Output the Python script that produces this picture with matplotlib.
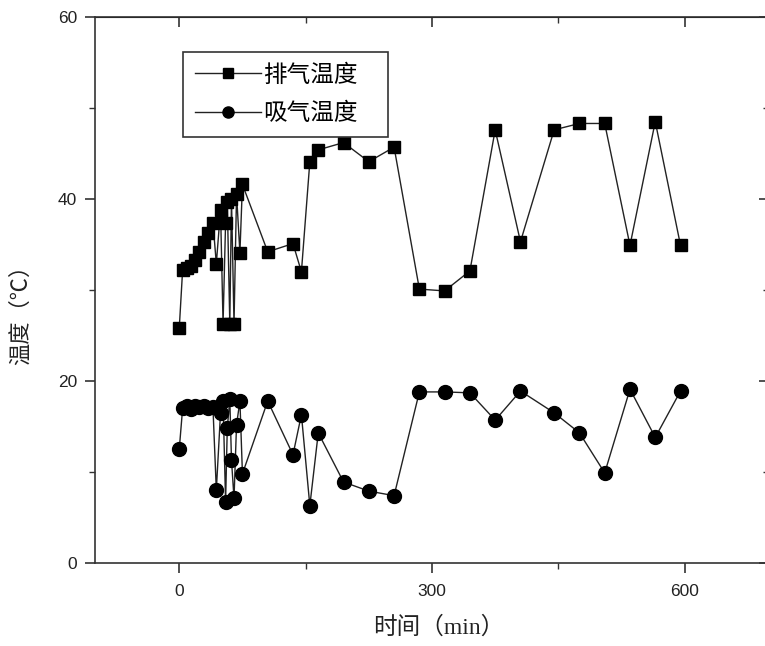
import matplotlib
matplotlib.use("Agg")
import matplotlib.pyplot as plt
from matplotlib.ticker import MultipleLocator

plt.rcParams['font.family'] = ['Liberation Sans', 'Noto Sans CJK SC', 'DejaVu Sans']

# time (min)
time = [0, 4, 9, 14, 19, 24, 29, 34, 40, 44, 49, 52, 55, 57, 60, 62, 65, 68, 72, 75,
        105, 135, 145, 155, 165, 195, 225, 255, 285, 315, 345, 375, 405, 445, 475,
        505, 535, 565, 595]
# exhaust temperature
exhaust = [25.8, 32.2, 32.4, 32.6, 33.3, 34.2, 35.3, 36.3, 37.4, 32.9, 38.8, 26.3,
           37.4, 39.7, 26.3, 40.0, 26.3, 40.5, 34.1, 41.6,
           34.2, 35.1, 32.0, 44.1, 45.4, 46.2, 44.1, 45.7, 30.1, 29.9, 32.1, 47.6,
           35.3, 47.6, 48.3, 48.3, 34.9, 48.5, 34.9]
# suction temperature
suction = [12.5, 17.0, 17.2, 16.9, 17.3, 17.1, 17.2, 17.0, 17.1, 8.0, 16.5, 17.8,
           6.7, 14.8, 18.0, 11.3, 7.1, 15.2, 17.8, 9.8,
           17.8, 11.9, 16.3, 6.3, 14.3, 8.9, 7.9, 7.4, 18.8, 18.8, 18.7, 15.7,
           18.9, 16.5, 14.3, 9.9, 19.1, 13.8, 18.9]

labels = ['排气温度', '吸气温度']
xlabel = '时间（min）'
ylabel = '温度（℃）'

fig = plt.figure(figsize=(7.65, 6.46), dpi=100)
ax = fig.add_axes([95/765, 83/646, 674/765, 546/646])

lc = '#222222'
ax.plot(time, exhaust, color=lc, lw=1.0, marker='s', ms=9, mfc='black', mec='black',
        label=labels[0])
ax.plot(time, suction, color=lc, lw=1.0, marker='o', ms=10, mfc='black', mec='black',
        label=labels[1])

ax.set_xlim(-100, 700)
ax.set_ylim(0, 60)
ax.xaxis.set_major_locator(MultipleLocator(300))
ax.xaxis.set_minor_locator(MultipleLocator(150))
ax.yaxis.set_major_locator(MultipleLocator(20))
ax.yaxis.set_minor_locator(MultipleLocator(10))

ax.tick_params(which='both', top=False, right=False, labeltop=False, labelright=False,
               colors='#333333', labelcolor='#222222', labelsize=12.5)
ax.tick_params(axis='x', which='major', direction='out', length=7, width=1.2, pad=8)
ax.tick_params(axis='x', which='minor', direction='out', length=4, width=1)
ax.tick_params(axis='y', which='major', direction='out', length=7, width=1.2, pad=6)
ax.tick_params(axis='y', which='minor', direction='out', length=4, width=1)
for sp in ax.spines.values():
    sp.set_color('#333333')
    sp.set_linewidth(1.2)

# top/right ticks pointing inward
sec_x = ax.secondary_xaxis('top')
sec_x.xaxis.set_major_locator(MultipleLocator(300))
sec_x.xaxis.set_minor_locator(MultipleLocator(150))
sec_x.tick_params(which='both', direction='in', labeltop=False, colors='#333333')
sec_x.tick_params(which='major', length=7, width=1.2)
sec_x.tick_params(which='minor', length=4, width=1)
sec_y = ax.secondary_yaxis('right')
sec_y.yaxis.set_major_locator(MultipleLocator(20))
sec_y.yaxis.set_minor_locator(MultipleLocator(10))
sec_y.tick_params(which='both', direction='in', labelright=False, colors='#333333')
sec_y.tick_params(which='major', length=7, width=1.2)
sec_y.tick_params(which='minor', length=4, width=1)

ax.set_xlabel(xlabel, fontsize=17, family=['Liberation Serif', 'Noto Sans CJK SC'],
              color='#222222')
ax.xaxis.set_label_coords(0.51, -0.098)
ax.set_ylabel(ylabel, fontsize=16, family=['Noto Sans CJK SC', 'DejaVu Sans'],
              color='#222222')
ax.yaxis.set_label_coords(-0.093, 0.465)

leg = ax.legend(loc='upper left', bbox_to_anchor=(0.1306, 0.786, 0.304, 0.15),
                mode='expand', borderaxespad=0,
                fancybox=False, edgecolor='#333333', framealpha=1,
                prop={'family': ['Noto Sans CJK SC'], 'size': 17},
                handlelength=2.8, handletextpad=0.1, borderpad=0.5,
                labelspacing=0.65, markerscale=0.8)
leg.get_frame().set_linewidth(1.2)

fig.savefig('out.png', dpi=100)
